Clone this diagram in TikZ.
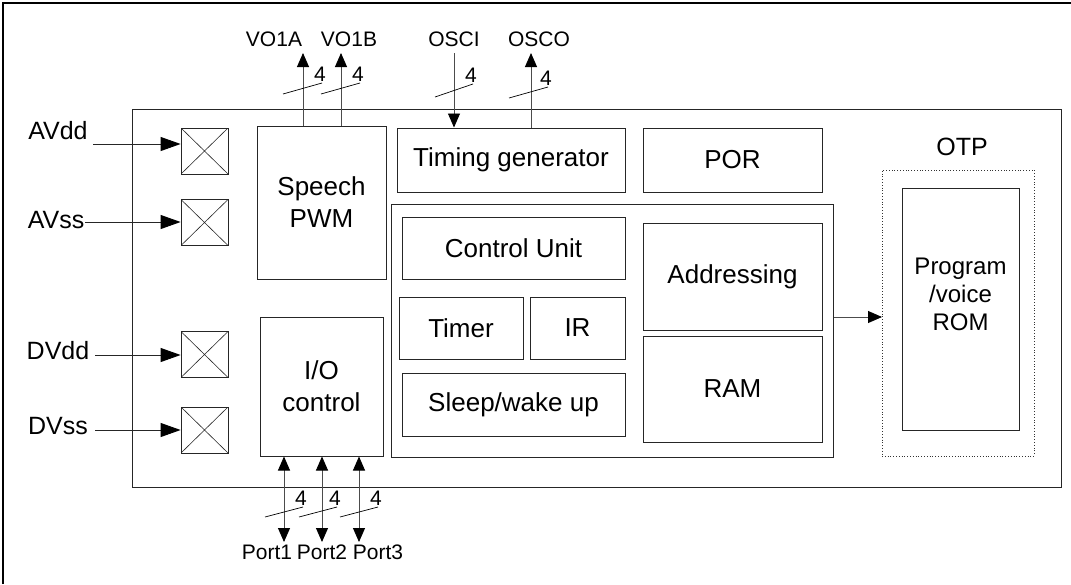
\documentclass[tikz,border=0pt]{standalone}
\usepackage{fontspec}
\setmainfont{Liberation Sans}
\usetikzlibrary{arrows.meta}

\begin{document}
\begin{tikzpicture}[x=1pt,y=1pt,
  block/.style={draw=black!85,line width=1pt,inner sep=0pt,align=center,font=\fontsize{26}{32}\selectfont},
  padbox/.style={draw=black!85,line width=0.8pt,minimum width=47pt,minimum height=46pt,inner sep=0pt,
    path picture={\draw[line width=0.6pt] (path picture bounding box.north west) -- (path picture bounding box.south east)
      (path picture bounding box.south west) -- (path picture bounding box.north east);}},
  pinname/.style={font=\fontsize{25}{30}\selectfont,inner sep=0pt},
  signame/.style={font=\fontsize{21}{25}\selectfont,inner sep=0pt},
  feed/.style={line width=0.9pt,draw=black!85,-{Triangle[length=20pt,width=14pt,black]}},
  sig/.style={line width=0.9pt,draw=black!70,-{Triangle[length=14pt,width=12pt,black]}},
  sigboth/.style={sig,{Triangle[length=14pt,width=12pt,black]}-{Triangle[length=14pt,width=12pt,black]}},
  bus/.style={line width=0.7pt},
  buswidth/.style={font=\fontsize{21}{25}\selectfont,inner sep=1pt,anchor=south,xshift=-2pt}]
\useasboundingbox (0,0) rectangle (1071,-584);
% page frame
\draw[line width=2pt] (2.5,-584) -- (2.5,-3.3) -- (1071,-3.3);

% chip outline and blocks
\node[block,line width=0.8pt,minimum width=929pt,minimum height=378pt] (chip) at (596.5,-298) {};
\node[block,minimum width=129pt,minimum height=153pt] (speech) at (321.5,-202.5) {Speech\\PWM};
\node[block,minimum width=123pt,minimum height=139pt] (io) at (321.5,-386.5) {I/O\\control};
\node[block,minimum width=228pt,minimum height=64pt] (timing) at (511,-160) {Timing generator};
\node[block,minimum width=179pt,minimum height=64pt] (por) at (732.5,-160) {POR};
\node[block,minimum width=442pt,minimum height=253pt] (core) at (612,-330.5) {};
\node[block,minimum width=223pt,minimum height=62pt] (cu) at (513.5,-248) {Control Unit};
\node[block,minimum width=124pt,minimum height=62pt] (timer) at (461,-328) {Timer};
\node[block,minimum width=95pt,minimum height=62pt] (ir) at (577.5,-328) {IR};
\node[block,minimum width=223pt,minimum height=63pt] (sleep) at (513.5,-404.5) {Sleep/wake up};
\node[block,minimum width=179pt,minimum height=107pt] (addr) at (732.5,-276.5) {Addressing};
\node[block,minimum width=179pt,minimum height=106pt] (ram) at (732.5,-389) {RAM};

% OTP memory
\node[draw=black!80,dotted,line width=0.8pt,minimum width=152pt,minimum height=286pt] (otp) at (958,-313) {};
\node[pinname] (otpname) at (962,-147) {OTP};
\node[block,minimum width=117pt,minimum height=242pt] (rom) at (960.5,-309) {};
\node[align=center,inner sep=0pt,font=\fontsize{24}{28}\selectfont] (romtext) at (960.5,-294) {Program\\/voice\\ROM};
\coordinate (romin) at (882,-317);
\draw[sig] (romin -| core.east) -- (romin);

% supply pads
\node[padbox] (avddpad) at (204.5,-151) {};
\node[padbox] (avsspad) at (204.5,-222.5) {};
\node[padbox] (dvddpad) at (204.5,-354.5) {};
\node[padbox] (dvsspad) at (204.5,-430) {};
\node[pinname] (avdd) at (58,-131) {AVdd};
\node[pinname] (avss) at (56,-220) {AVss};
\node[pinname] (dvdd) at (58,-351) {DVdd};
\node[pinname] (dvss) at (58,-426) {DVss};
\coordinate (avddin) at (93,-144);
\coordinate (avssin) at (85,-222);
\coordinate (dvddin) at (95,-355);
\coordinate (dvssin) at (95,-430);
\draw[feed] (avddin) -- (avddin -| avddpad.west);
\draw[feed] (avssin) -- (avssin -| avsspad.west);
\draw[feed] (dvddin) -- (dvddin -| dvddpad.west);
\draw[feed] (dvssin) -- (dvssin -| dvsspad.west);

% speech outputs and oscillator
\node[signame] (vo1a) at (274,-39) {VO1A};
\node[signame] (vo1b) at (349,-39) {VO1B};
\node[signame] (osci) at (454,-39) {OSCI};
\node[signame] (osco) at (539,-39) {OSCO};
\coordinate (vo1aout) at (303,-53);
\coordinate (vo1bout) at (341,-53);
\coordinate (osciin) at (454,-53);
\coordinate (oscoout) at (531,-53);
\draw[sig] (vo1aout |- speech.north) -- (vo1aout);
\draw[sig] (vo1bout |- speech.north) -- (vo1bout);
\draw[sig] (osciin) -- (osciin |- timing.north);
\draw[sig] (oscoout |- timing.north) -- (oscoout);
\draw[bus] (283,-94) -- (322,-83) node[buswidth] {4};
\draw[bus] (321,-94) -- (360,-83) node[buswidth] {4};
\draw[bus] (435,-97) -- (473,-84) node[buswidth] {4};
\draw[bus] (509,-98) -- (548,-87) node[buswidth] {4};

% I/O ports
\node[signame] (port1) at (267,-552) {Port1};
\node[signame] (port2) at (322,-552) {Port2};
\node[signame] (port3) at (378,-552) {Port3};
\coordinate (p1) at (284,-542);
\coordinate (p2) at (322,-542);
\coordinate (p3) at (359,-542);
\draw[sigboth] (p1 |- io.south) -- (p1);
\draw[sigboth] (p2 |- io.south) -- (p2);
\draw[sigboth] (p3 |- io.south) -- (p3);
\draw[bus] (265,-517) -- (303,-507) node[buswidth] {4};
\draw[bus] (299,-517) -- (337,-507) node[buswidth] {4};
\draw[bus] (340,-517) -- (378,-507) node[buswidth] {4};
\end{tikzpicture}
\end{document}
